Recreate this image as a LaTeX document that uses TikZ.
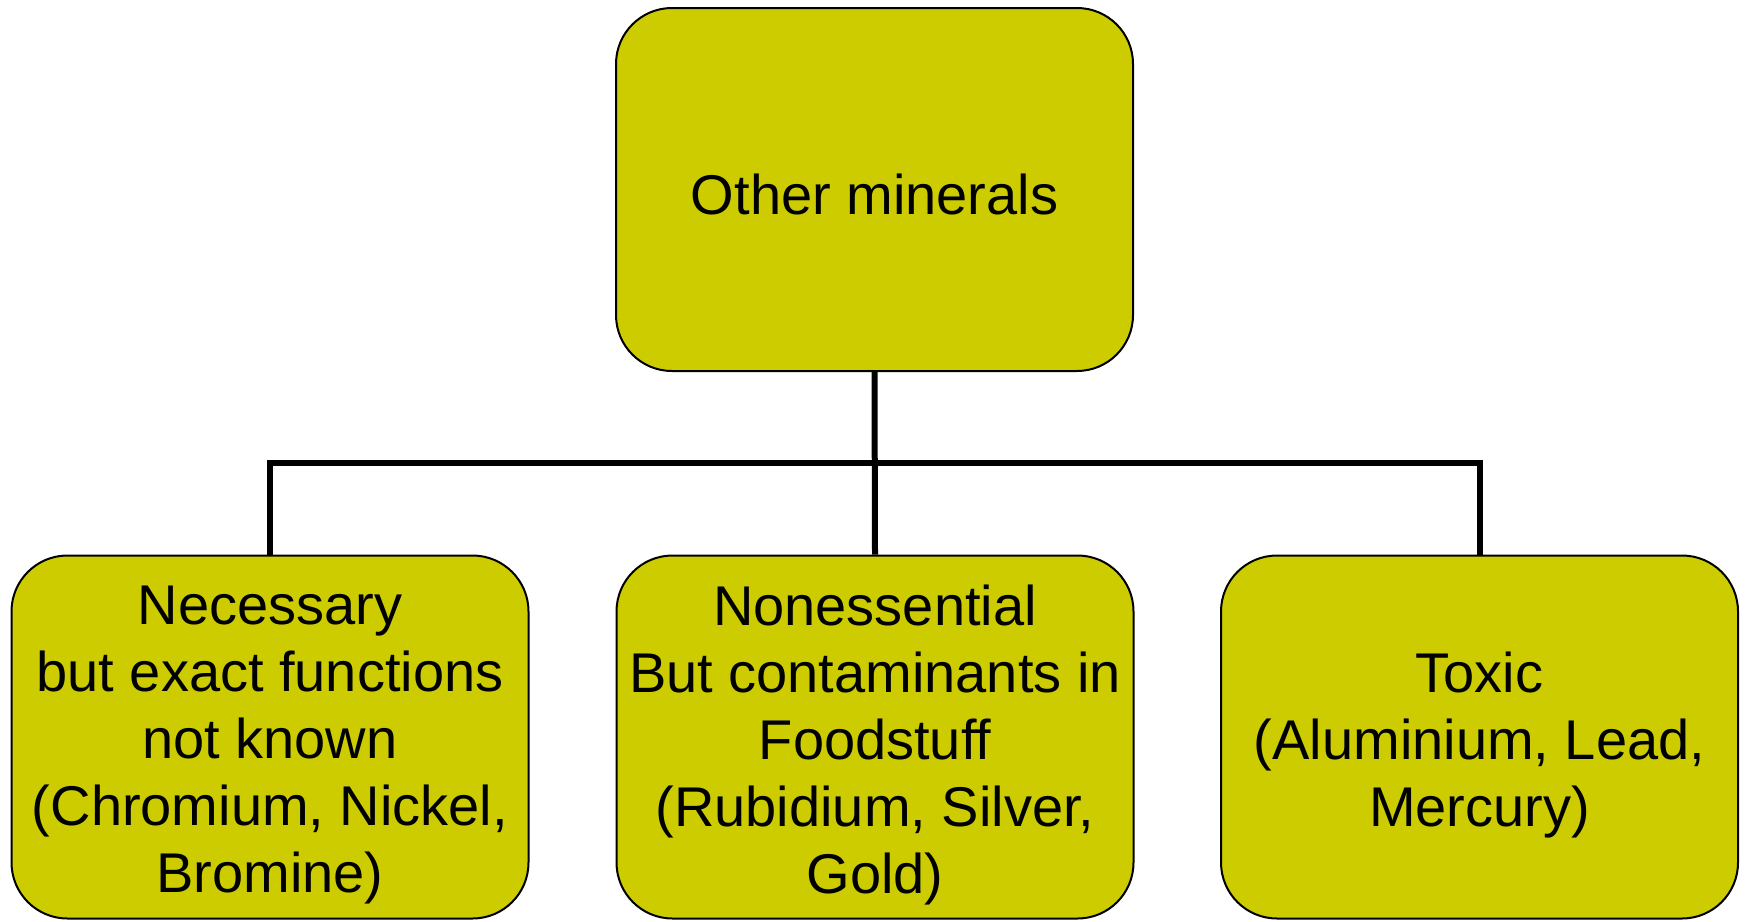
\documentclass[tikz,border=0pt]{standalone}
\usepackage{fontspec}
\setmainfont{Liberation Sans}
\definecolor{boxfill}{HTML}{CCCC00}
\begin{document}
\begin{tikzpicture}[x=0.5pt,y=-0.5pt,
  mbox/.style={draw=black, line width=1pt, fill=boxfill, rounded corners=28pt,
    minimum width=258.5pt, minimum height=181.5pt, inner sep=0pt},
  txt/.style={inner sep=0pt, align=center, font=\fontsize{28}{33.5}\selectfont},
  conn/.style={draw=black, line width=3pt}]
\useasboundingbox (0,0) rectangle (1749,921);
\node[mbox] (top) at (874.5,189.5) {};
\node[mbox] (left) at (270,737) {};
\node[mbox] (mid) at (875,737) {};
\node[mbox] (right) at (1479.5,737) {};
\node[txt] (toptext) at ([yshift=-2.5pt]top.center) {Other minerals};
\node[txt] (lefttext) at ([yshift=-4pt]left.center) {Necessary\\but exact functions\\not known\\(Chromium, Nickel,\\Bromine)};
\node[txt] (midtext) at ([yshift=-4pt]mid.center) {Nonessential\\But contaminants in\\Foodstuff\\(Rubidium, Silver,\\Gold)};
\node[txt] (righttext) at ([yshift=-4pt]right.center) {Toxic\\(Aluminium, Lead,\\Mercury)};
\coordinate (j) at (874.5,463);
\draw[conn] (top.south) -- (mid.north);
\draw[conn] (left.north) |- (j) -| (right.north);
\end{tikzpicture}
\end{document}
